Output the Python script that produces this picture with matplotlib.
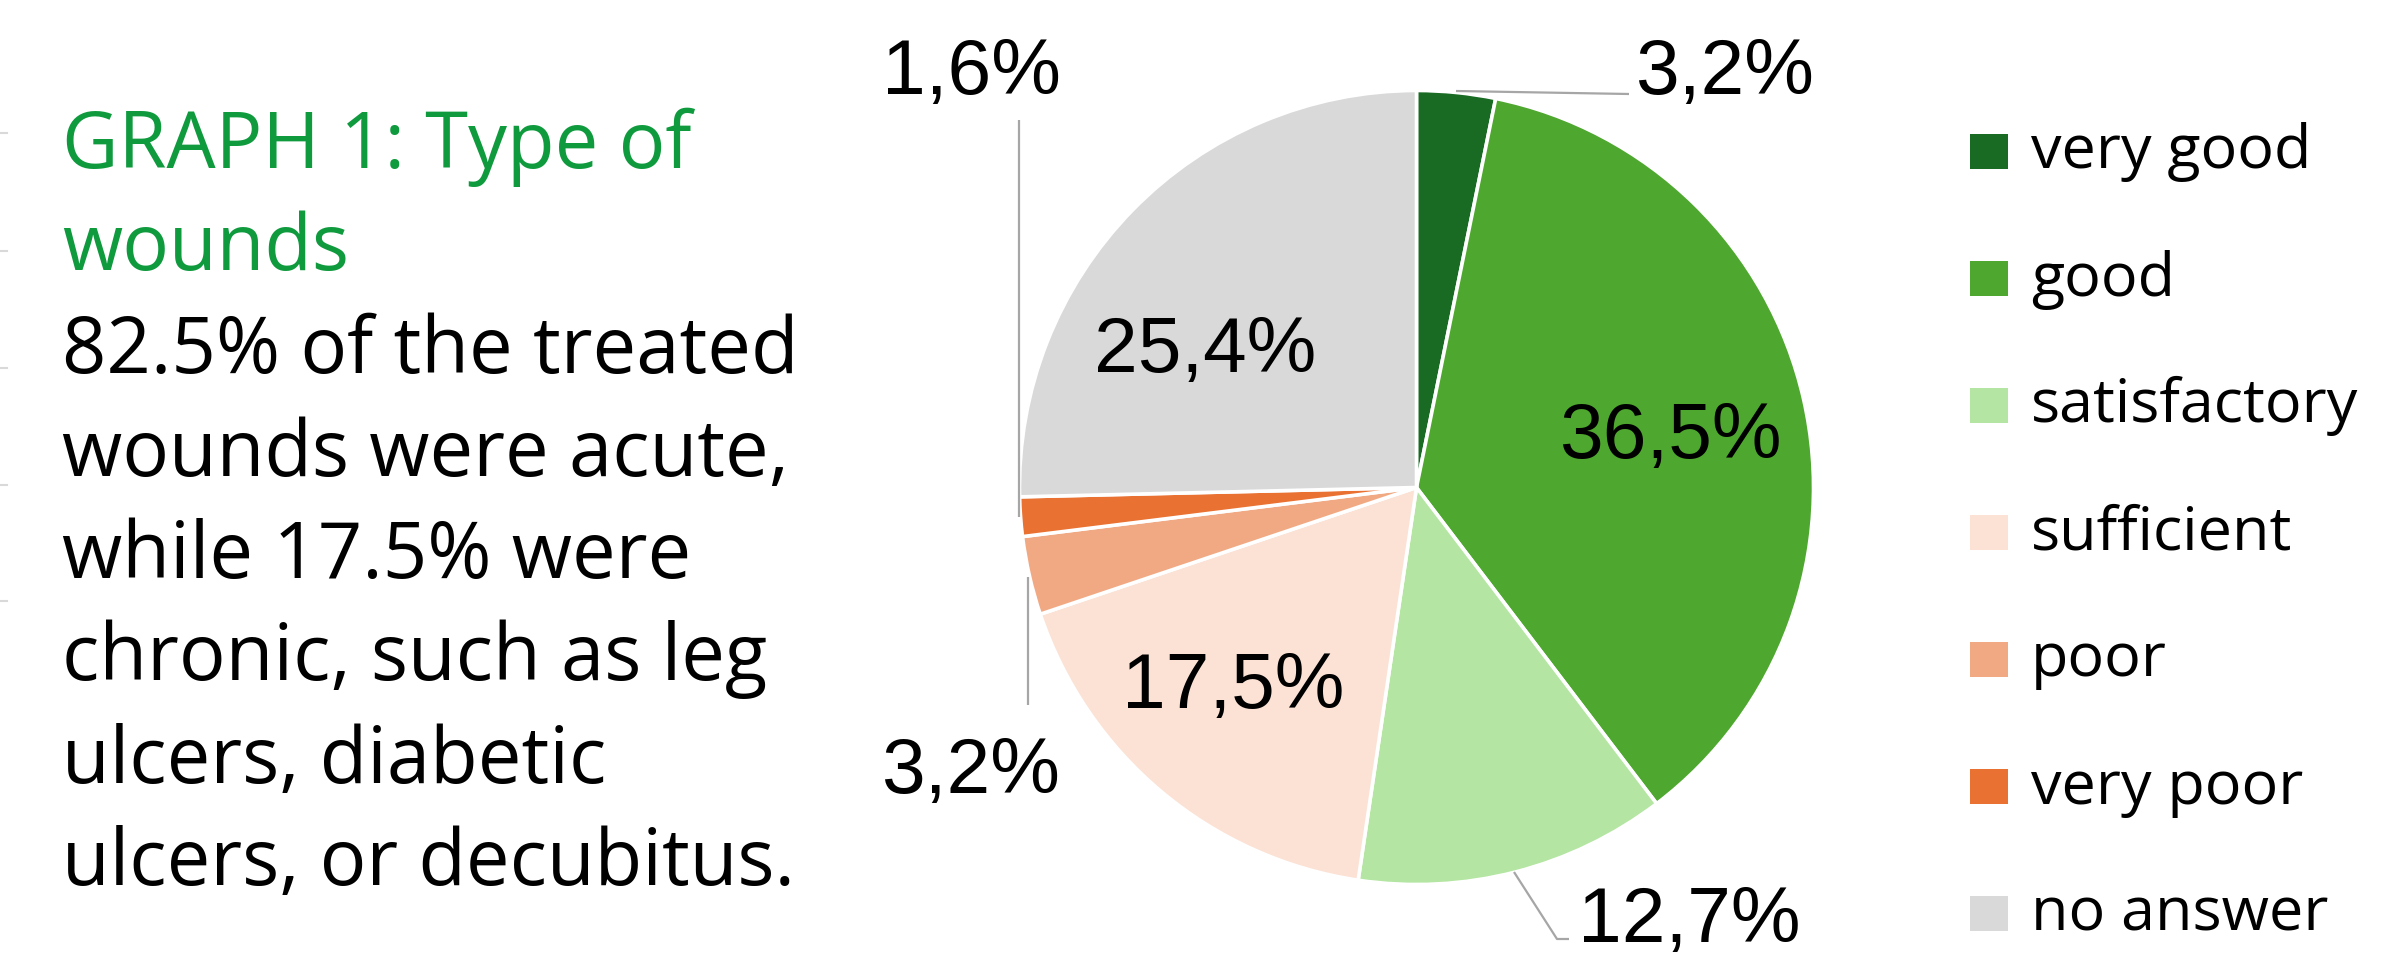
import matplotlib.pyplot as plt
from matplotlib.patches import Rectangle

# data
categories = ['very good', 'good', 'satisfactory', 'sufficient', 'poor', 'very poor', 'no answer']
values = [3.2, 36.5, 12.7, 17.5, 3.2, 1.6, 25.4]
colors = ['#196B24', '#4EA72E', '#B4E5A2', '#FBE2D5', '#F1A983', '#E97132', '#D9D9D9']

title_lines = ['GRAPH 1: Type of', 'wounds']
body_lines = ['82.5% of the treated', 'wounds were acute,', 'while 17.5% were',
              'chronic, such as leg', 'ulcers, diabetic', 'ulcers, or decubitus.']

W, H = 2381, 955
text_font = 'Open Sans'

fig = plt.figure(figsize=(W / 100, H / 100), dpi=100)
ax = fig.add_axes([0, 0, 1, 1])

# pie in pixel coordinates (y up)
cx, cy, r = 1416.5, H - 487.5, 397
ax.pie(values, colors=colors, startangle=90, counterclock=False,
       center=(cx, cy), radius=r,
       wedgeprops=dict(edgecolor='white', linewidth=2.6))
ax.set_xlim(0, W)
ax.set_ylim(0, H)
ax.set_aspect('equal')
ax.axis('off')

# label positions (x, baseline y in image pixels) for each slice
label_pos = [(1724, 94), (1670, 458), (1689, 942), (1233, 708),
             (970, 793), (971, 94), (1205, 372)]
for v, (x, y) in zip(values, label_pos):
    ax.text(x, H - y, f'{v:.1f}%'.replace('.', ','), ha='center', va='baseline',
            fontsize=56.5, family='Liberation Sans', color='black')

# leader lines
leader_lines = [
    [(1456, 91), (1629, 94)],
    [(1019, 120), (1019, 517)],
    [(1028, 577), (1028, 705)],
    [(1514, 872), (1557, 939), (1569, 939)],
]
for pts in leader_lines:
    xs = [p[0] for p in pts]
    ys = [H - p[1] for p in pts]
    ax.plot(xs, ys, color='#A6A6A6', lw=1.6, solid_capstyle='butt')

# small grey marks on the left edge
for y in [133, 251, 368, 485, 601]:
    ax.plot([0, 7], [H - y, H - y], color='#D9D9D9', lw=1.5)

# left text
baselines = [168, 270, 373, 476, 578, 680, 783, 885]
lines = title_lines + body_lines
for i, (line, y) in enumerate(zip(lines, baselines)):
    col = '#0F9A3E' if i < len(title_lines) else 'black'
    ax.text(62, H - y, line, ha='left', va='baseline', fontsize=56,
            family=text_font, color=col)

# legend
for i, (cat, col) in enumerate(zip(categories, colors)):
    yc = 151.5 + 127 * i
    ax.add_patch(Rectangle((1970, H - yc - 17.5), 38, 35, facecolor=col, edgecolor='none'))
    ax.text(2031, H - yc - 17, cat, ha='left', va='baseline', fontsize=44,
            family=text_font, color='black')

fig.savefig('out.png', dpi=100)
